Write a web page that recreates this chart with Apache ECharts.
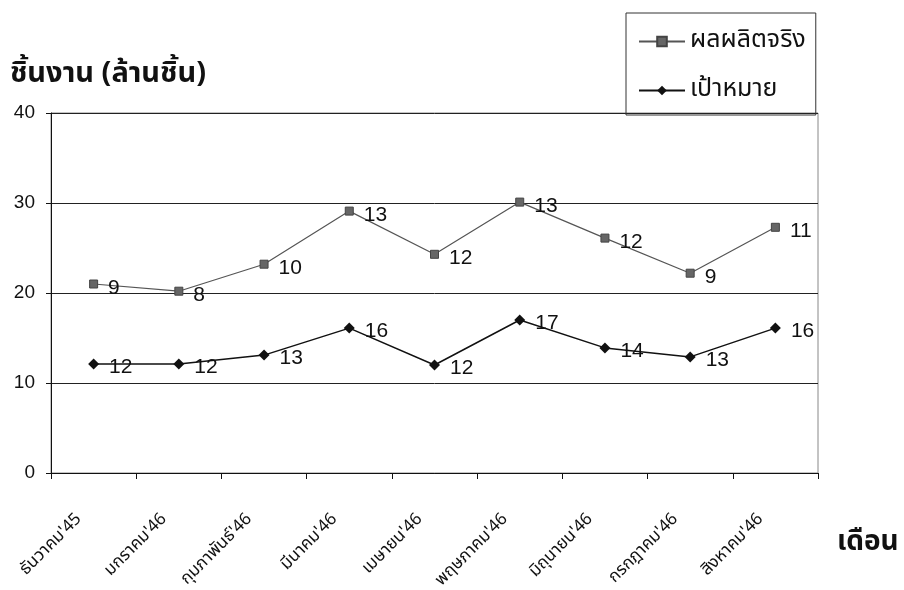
<!DOCTYPE html>
<html><head><meta charset="utf-8">
<script src="https://cdn.jsdelivr.net/npm/echarts@6/dist/echarts.min.js"></script>
<style>html,body{margin:0;padding:0;background:#fff}#c{width:904px;height:590px}</style>
</head><body><div id="c"></div>
<script>
const categories = ["ธันวาคม'45","มกราคม'46","กุมภาพันธ์'46","มีนาคม'46","เมษายน'46","พฤษภาคม'46","มิถุนายน'46","กรกฎาคม'46","สิงหาคม'46"];
const actualValues = [21, 20.2, 23.2, 29.1, 24.3, 30.1, 26.1, 22.2, 27.3];
const actualLabels = [9, 8, 10, 13, 12, 13, 12, 9, 11];
const targetValues = [12.1, 12.1, 13.1, 16.1, 12, 17, 13.9, 12.9, 16.1];
const targetLabels = [12, 12, 13, 16, 12, 17, 14, 13, 16];
const yTicks = [0, 10, 20, 30, 40];

const FONT = "'Noto Sans Thai','Liberation Sans',Arial,sans-serif";
const NUMFONT = "'Liberation Sans',Arial,sans-serif";
const chart = echarts.init(document.getElementById('c'));
chart.setOption({
  backgroundColor: '#fff',
  animation: false,
  textStyle: {fontFamily: FONT},
  grid: {left: 51, right: 86, top: 113, bottom: 117, show: true, borderColor: '#888', borderWidth: 1,
    containLabel: false, outerBoundsMode: 'none'},
  legend: {
    orient: 'vertical', left: 626, top: 13,
    padding: [16, 10, 12, 12],
    itemGap: 24,
    itemWidth: 46, itemHeight: 12,
    borderColor: '#333', borderWidth: 1,
    textStyle: {fontSize: 25, color: '#111', fontFamily: FONT},
    data: ['ผลผลิตจริง', 'เป้าหมาย']
  },
  graphic: [
    {type: 'text', left: 10, top: 62, style: {text: 'ชิ้นงาน (ล้านชิ้น)', font: "bold 29px " + FONT, fill: '#111'}},
    {type: 'text', left: 837, top: 530, style: {text: 'เดือน', font: "bold 28px " + FONT, fill: '#111'}}
  ],
  xAxis: {
    type: 'category', data: categories, boundaryGap: true,
    axisLine: {lineStyle: {color: '#111', width: 1}},
    axisTick: {show: true, length: 6, lineStyle: {color: '#111'}},
    axisLabel: {rotate: 45, fontSize: 17, color: '#111', margin: 30, padding: [0, 20, 0, 0], fontFamily: FONT}
  },
  yAxis: {
    type: 'value', min: 0, max: 40, interval: 10,
    axisLine: {show: true, lineStyle: {color: '#111'}},
    axisTick: {show: true, length: 5, lineStyle: {color: '#111'}},
    axisLabel: {fontSize: 19, color: '#111', margin: 16, fontFamily: NUMFONT,
      formatter: v => yTicks.includes(v) ? String(v) : ''},
    splitLine: {lineStyle: {color: '#222', width: 1}}
  },
  series: [
    {
      name: 'ผลผลิตจริง', type: 'line', data: actualValues,
      symbol: 'rect', symbolSize: 8,
      lineStyle: {color: '#555', width: 1.2},
      itemStyle: {color: '#666', borderColor: '#444', borderWidth: 1},
      label: {show: true, position: 'right', distance: 10, offset: [0, 4], fontSize: 21, color: '#111', fontFamily: NUMFONT,
        formatter: p => String(actualLabels[p.dataIndex])}
    },
    {
      name: 'เป้าหมาย', type: 'line', data: targetValues,
      symbol: 'diamond', symbolSize: 11,
      lineStyle: {color: '#111', width: 1.5},
      itemStyle: {color: '#111'},
      label: {show: true, position: 'right', distance: 10, offset: [0, 3], fontSize: 21, color: '#111', fontFamily: NUMFONT,
        formatter: p => String(targetLabels[p.dataIndex])}
    }
  ]
});
</script></body></html>
